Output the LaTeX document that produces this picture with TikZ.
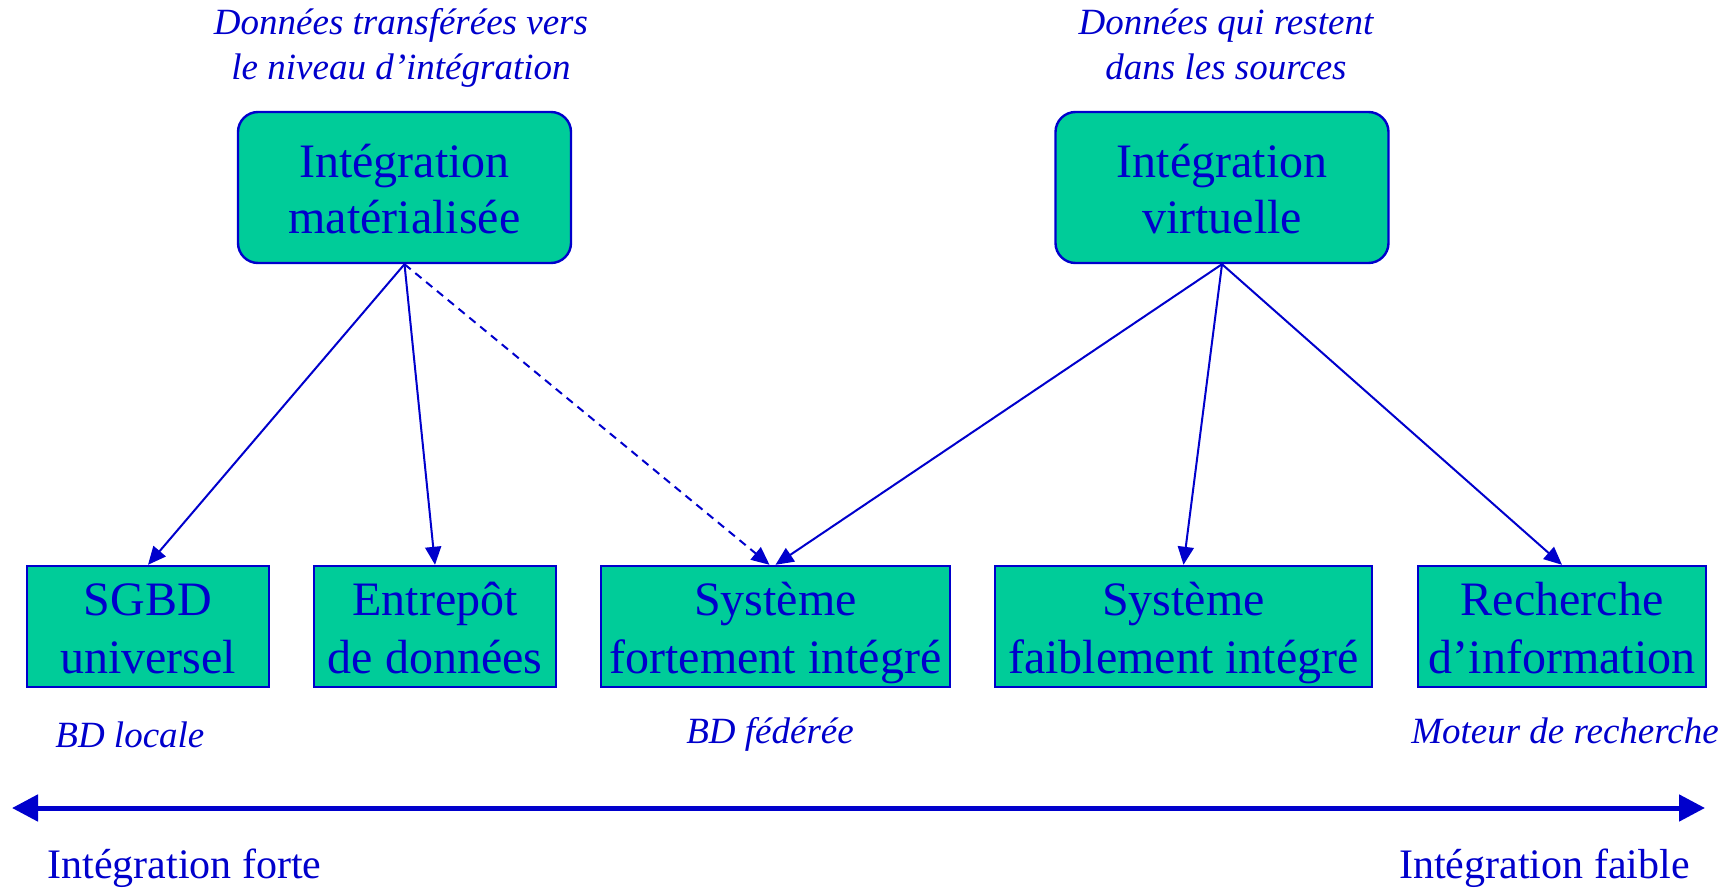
\documentclass[tikz,border=0pt]{standalone}
\usepackage{fontspec}
\setmainfont{Liberation Serif}
\usetikzlibrary{arrows.meta}
\definecolor{boxgreen}{HTML}{00CC99}
\definecolor{ink}{HTML}{0000CC}
\begin{document}
\begin{tikzpicture}[x=0.5pt,y=-0.5pt,
  topbox/.style={draw=ink, line width=1.2pt, fill=boxgreen, rounded corners=10pt,
    minimum width=166.5pt, minimum height=75.5pt, inner sep=0pt, align=center,
    text=ink, font=\fontsize{24}{28}\selectfont, text height=45.5pt, text depth=0pt},
  leaf/.style={draw=ink, line width=1.2pt, fill=boxgreen,
    minimum height=60.5pt, inner sep=0pt, align=center,
    text=ink, font=\fontsize{24}{29}\selectfont, text height=46.5pt, text depth=0pt},
  note/.style={text=ink, font=\fontsize{18.5}{22.5}\selectfont\itshape, align=center, inner sep=0pt},
  axlabel/.style={text=ink, font=\fontsize{21}{25}\selectfont, inner sep=0pt},
  link/.style={draw=ink, line width=1pt, -{Triangle[length=9pt,width=8pt]}},
  dlink/.style={link, dash pattern=on 4pt off 3pt},
  axis/.style={draw=ink, line width=2.5pt,
    {Triangle[length=13pt,width=13pt]}-{Triangle[length=13pt,width=13pt]}}]
\useasboundingbox (0,0) rectangle (1735,888);

% the two integration approaches
\node[topbox] (mat) at (404.5,187.5) {Intégration\\matérialisée};
\node[topbox] (virt) at (1222,187.5) {Intégration\\virtuelle};

% notes above the approaches (anchored on their last line)
\node[note, anchor=base] (nmat) at (401,80) {Données transférées vers\\le niveau d’intégration};
\node[note, anchor=base] (nvirt) at (1226,80) {Données qui restent\\dans les sources};

% concrete systems
\node[leaf, minimum width=121pt] (sgbd) at (148,626.5) {SGBD\\universel};
\node[leaf, minimum width=121pt] (entr) at (435,626.5) {Entrepôt\\de données};
\node[leaf, minimum width=174.5pt] (sfort) at (775.5,626.5) {Système\\fortement intégré};
\node[leaf, minimum width=188.5pt] (sfaib) at (1183.5,626.5) {Système\\faiblement intégré};
\node[leaf, minimum width=144pt] (rech) at (1562,626.5) {Recherche\\d’information};

\node[note, anchor=base west] (bdl) at (55,747) {BD locale};
\node[note, anchor=base] (bdf) at (770,743) {BD fédérée};
\node[note, anchor=base] (mot) at (1565,743) {Moteur de recherche};

% connectors
\draw[link] (mat.south) -- (sgbd.north);
\draw[link] (mat.south) -- (entr.north);
\draw[dlink] (mat.south) -- ([xshift=-3pt]sfort.north);
\draw[link] (virt.south) -- (sfort.north);
\draw[link] (virt.south) -- (sfaib.north);
\draw[link] (virt.south) -- (rech.north);

% integration scale
\coordinate (axl) at (12,808);
\coordinate (axr) at (1705,808);
\draw[axis] (axl) -- (axr);
\node[axlabel, anchor=base west] (forte) at (47,878) {Intégration forte};
\node[axlabel, anchor=base east] (faible) at (1690,878) {Intégration faible};
\end{tikzpicture}
\end{document}
